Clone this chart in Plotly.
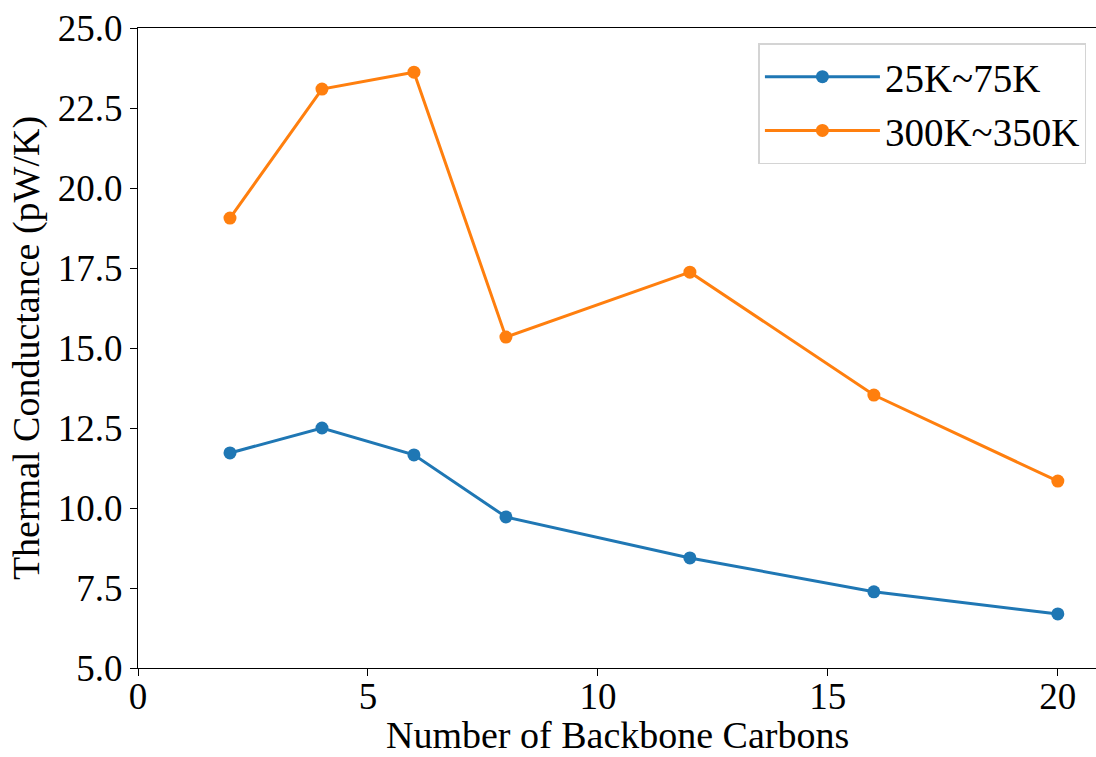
import plotly.graph_objects as go

# Backbone length (number of carbons) and measured thermal conductance (pW/K)
carbons = [2, 4, 6, 8, 12, 16, 20]
g_low_t = [11.72, 12.50, 11.66, 9.72, 8.44, 7.38, 6.69]      # 25K~75K
g_high_t = [19.06, 23.09, 23.62, 15.34, 17.37, 13.53, 10.84]  # 300K~350K

series = [
    ("25K~75K", g_low_t, "#1f77b4"),
    ("300K~350K", g_high_t, "#ff7f0e"),
]

x_ticks = [0, 5, 10, 15, 20]
y_ticks = [5.0, 7.5, 10.0, 12.5, 15.0, 17.5, 20.0, 22.5, 25.0]

FONT = "Liberation Serif, Times New Roman, serif"
TICK_SIZE = 37
LABEL_SIZE = 38

fig = go.Figure()
for name, vals, color in series:
    fig.add_trace(go.Scatter(
        x=carbons, y=vals, name=name, mode="lines+markers",
        line=dict(color=color, width=3),
        marker=dict(color=color, size=13),
    ))

fig.update_layout(
    width=1096, height=757,
    margin=dict(l=138, r=0, t=28, b=89),
    paper_bgcolor="white", plot_bgcolor="white",
    font=dict(family=FONT, size=TICK_SIZE, color="black"),
    showlegend=True,
    legend=dict(
        x=0.99, y=0.976, xanchor="right", yanchor="top",
        bgcolor="rgba(255,255,255,0.8)", bordercolor="#d4d4d4", borderwidth=1.5,
        font=dict(family=FONT, size=39),
        itemwidth=115,
    ),
    xaxis=dict(
        range=[0, 20.83], tickvals=x_ticks, ticktext=[str(v) for v in x_ticks],
        showgrid=False, zeroline=False, automargin=False,
        showline=True, linecolor="black", linewidth=1.3, mirror=True,
        ticks="outside", ticklen=7, tickwidth=1.3, tickcolor="black",
        ticklabelstandoff=-12,
        tickfont=dict(family=FONT, size=TICK_SIZE),
    ),
    yaxis=dict(
        range=[5.0, 25.0], tickvals=y_ticks, ticktext=[f"{v:.1f}" for v in y_ticks],
        showgrid=False, zeroline=False, automargin=False,
        showline=True, linecolor="black", linewidth=1.3, mirror=False,
        ticks="outside", ticklen=7, tickwidth=1.3, tickcolor="black",
        title=dict(text="Thermal Conductance (pW/K)", standoff=6,
                   font=dict(family=FONT, size=LABEL_SIZE)),
        tickfont=dict(family=FONT, size=TICK_SIZE),
    ),
    annotations=[dict(
        text="Number of Backbone Carbons", xref="paper", yref="paper",
        x=0.5, y=0, xanchor="center", yanchor="top", yshift=-44,
        showarrow=False, font=dict(family=FONT, size=LABEL_SIZE, color="black"),
    )],
)

fig.write_html("out.html")
